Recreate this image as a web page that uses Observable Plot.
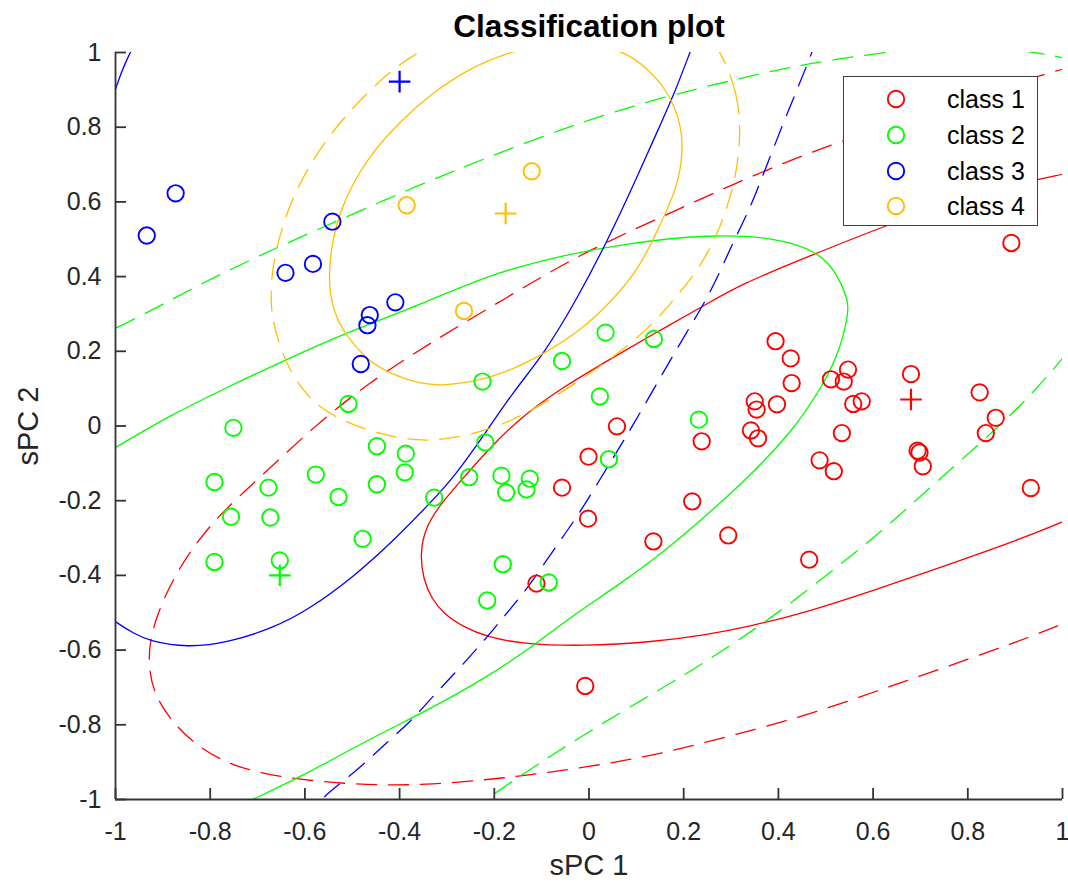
<!DOCTYPE html>
<html>
<head>
<meta charset="utf-8">
<script src="https://cdn.jsdelivr.net/npm/d3@7"></script>
<script src="https://cdn.jsdelivr.net/npm/@observablehq/plot@0.6"></script>
<style>
  html, body { margin: 0; padding: 0; background: #fff; }
  #wrap { position: relative; width: 1068px; height: 886px; font-family: "Liberation Sans", Arial, Helvetica, sans-serif; }
  #legend { position: absolute; left: 843px; top: 76px; width: 193px; height: 148px; border: 1.5px solid #404040; background: #fff; }
  .entry { position: absolute; left: 0; height: 30px; width: 190px; }
  .entry svg { position: absolute; left: 42px; top: 5px; }
  .entry span { position: absolute; left: 103px; top: 0; font-size: 25px; line-height: 30px; color: #000; }
</style>
</head>
<body>
<div id="wrap"><div id="chart"></div><div id="legend"></div></div>
<script>
// ---- axes ----
const xTicks = [-1, -0.8, -0.6, -0.4, -0.2, 0, 0.2, 0.4, 0.6, 0.8, 1];
const yTicks = [-1, -0.8, -0.6, -0.4, -0.2, 0, 0.2, 0.4, 0.6, 0.8, 1];
const xDomain = [-1, 1];
const yDomain = [-1, 1];

// ---- classes ----
const classNames = ["class 1", "class 2", "class 3", "class 4"];
const classColors = ["#FF0000", "#00FF00", "#0000FF", "#FFBF00"];

// class 1 (red) samples
const class1X = [0.394, 0.426, 0.428, 0.350, 0.354, 0.397, 0.342, 0.357, 0.511, 0.547, 0.538, 0.558, 0.576, 0.534, 0.487, 0.517, 0.680, 0.825, 0.859, 0.838, 0.694, 0.698, 0.705, 0.933, 0.059, -0.001, 0.238, -0.057, 0.218, -0.002, 0.136, 0.294, -0.111, -0.008, 0.465, 0.892];
const class1Y = [0.227, 0.181, 0.115, 0.066, 0.044, 0.058, -0.012, -0.033, 0.125, 0.151, 0.119, 0.059, 0.066, -0.019, -0.092, -0.121, 0.139, 0.090, 0.022, -0.019, -0.066, -0.071, -0.108, -0.166, -0.001, -0.082, -0.041, -0.165, -0.202, -0.248, -0.309, -0.293, -0.422, -0.696, -0.358, 0.490];

// class 2 (green) samples
const class2X = [-0.508, -0.751, -0.448, -0.387, -0.389, -0.577, -0.448, -0.791, -0.677, -0.529, -0.756, -0.673, -0.478, -0.327, -0.791, -0.653, 0.035, 0.137, -0.057, -0.225, 0.023, 0.232, -0.219, 0.042, -0.253, -0.185, -0.125, -0.132, -0.175, -0.182, -0.215, -0.085];
const class2Y = [0.059, -0.005, -0.054, -0.074, -0.124, -0.130, -0.156, -0.150, -0.165, -0.190, -0.243, -0.245, -0.302, -0.192, -0.364, -0.360, 0.250, 0.233, 0.174, 0.119, 0.079, 0.017, -0.044, -0.089, -0.137, -0.133, -0.141, -0.170, -0.178, -0.370, -0.467, -0.419];

// class 3 (blue) samples
const class3X = [-0.873, -0.934, -0.542, -0.583, -0.641, -0.409, -0.463, -0.468, -0.482];
const class3Y = [0.623, 0.510, 0.547, 0.434, 0.410, 0.331, 0.297, 0.270, 0.166];

// class 4 (orange) samples
const class4X = [-0.385, -0.121, -0.264];
const class4Y = [0.591, 0.682, 0.308];

// class centres (+)
const centreX = [0.680, -0.653, -0.400, -0.176];
const centreY = [0.071, -0.400, 0.922, 0.569];

// ---- class boundaries ----
const red1X = [1.223, 1.117, 0.997, 0.813, 0.616, 0.468, 0.321, 0.243, 0.137, 0.039, -0.060, -0.144, -0.215, -0.264, -0.313, -0.345, -0.357, -0.350, -0.333, -0.305, -0.265, -0.215, -0.144, -0.011, 0.137, 0.243, 0.342, 0.461, 0.602, 0.743, 0.905, 1.039, 1.117];
const red1Y = [0.720, 0.702, 0.675, 0.621, 0.532, 0.456, 0.380, 0.322, 0.247, 0.175, 0.100, 0.024, -0.066, -0.137, -0.208, -0.270, -0.340, -0.410, -0.462, -0.505, -0.538, -0.565, -0.583, -0.590, -0.578, -0.560, -0.536, -0.498, -0.440, -0.378, -0.306, -0.238, -0.180];

const red2X = [1.223, 1.082, 0.976, 0.758, 0.539, 0.342, 0.137, -0.018, -0.172, -0.334, -0.468, -0.574, -0.679, -0.764, -0.827, -0.877, -0.909, -0.928, -0.930, -0.919, -0.884, -0.827, -0.750, -0.651, -0.539, -0.433, -0.334, -0.215, -0.130, -0.003, 0.137, 0.278, 0.461, 0.602, 0.743, 0.884, 1.000, 1.223];
const red2Y = [1.024, 0.979, 0.951, 0.854, 0.768, 0.670, 0.550, 0.461, 0.345, 0.224, 0.113, 0.006, -0.119, -0.217, -0.306, -0.405, -0.494, -0.574, -0.645, -0.716, -0.788, -0.859, -0.913, -0.940, -0.956, -0.962, -0.960, -0.947, -0.935, -0.913, -0.882, -0.837, -0.775, -0.712, -0.650, -0.587, -0.532, -0.408];

const green1X = [-1.193, -1.091, -1.000, -0.891, -0.764, -0.644, -0.518, -0.334, -0.215, -0.074, 0.067, 0.257, 0.391, 0.483, 0.525, 0.546, 0.549, 0.532, 0.497, 0.426, 0.330, 0.250, 0.166, 0.067, -0.039, -0.113, -0.215, -0.334, -0.468, -0.609, -0.711, -0.788, -0.972];
const green1Y = [-0.215, -0.128, -0.057, 0.024, 0.104, 0.175, 0.247, 0.336, 0.403, 0.452, 0.487, 0.514, 0.505, 0.469, 0.407, 0.340, 0.309, 0.211, 0.113, -0.021, -0.145, -0.237, -0.329, -0.422, -0.511, -0.585, -0.672, -0.757, -0.841, -0.940, -1.000, -1.047, -1.136];

const green2X = [-1.060, -1.000, -0.926, -0.870, -0.799, -0.666, -0.539, -0.363, -0.215, -0.039, 0.137, 0.342, 0.461, 0.623, 0.720, 0.820, 0.947, 0.993, 1.060, 1.150, 1.220, 1.200, 1.120, 1.050, 1.000, 0.954, 0.898, 0.813, 0.729, 0.659, 0.595, 0.532, 0.461, 0.391, 0.321, 0.208, 0.067, -0.074, -0.201, -0.260];
const green2Y = [0.230, 0.260, 0.309, 0.346, 0.394, 0.474, 0.545, 0.643, 0.719, 0.804, 0.875, 0.938, 0.971, 1.000, 1.015, 1.020, 1.000, 0.988, 0.970, 0.920, 0.780, 0.550, 0.380, 0.260, 0.180, 0.113, 0.037, -0.061, -0.155, -0.235, -0.306, -0.369, -0.440, -0.507, -0.569, -0.663, -0.766, -0.877, -0.984, -1.040];

const blue1X = [-0.895, -0.951, -0.972, -1.000, -1.013, -1.030, -1.070, -1.120, -1.150, -1.140, -1.100, -1.060, -1.000, -0.961, -0.926, -0.849, -0.764, -0.666, -0.595, -0.497, -0.412, -0.334, -0.285, -0.215, -0.158, -0.095, -0.025, 0.039, 0.095, 0.151, 0.180, 0.213, 0.250];
const blue1Y = [1.196, 1.036, 0.997, 0.906, 0.844, 0.760, 0.600, 0.400, 0.100, -0.200, -0.400, -0.470, -0.525, -0.556, -0.577, -0.593, -0.581, -0.540, -0.494, -0.404, -0.306, -0.204, -0.137, -0.012, 0.095, 0.193, 0.341, 0.496, 0.648, 0.808, 0.889, 1.000, 1.120];

const blue2X = [-0.600, -0.567, -0.539, -0.482, -0.426, -0.377, -0.324, -0.271, -0.215, -0.172, -0.130, -0.070, -0.025, 0.039, 0.095, 0.151, 0.208, 0.257, 0.299, 0.338, 0.363, 0.412, 0.447, 0.471, 0.490];
const blue2Y = [-1.060, -1.000, -0.971, -0.913, -0.846, -0.792, -0.716, -0.645, -0.565, -0.498, -0.436, -0.322, -0.244, -0.110, 0.006, 0.131, 0.255, 0.357, 0.478, 0.577, 0.657, 0.817, 0.924, 1.000, 1.070];

const orange1X = [0.081, 0.137, 0.173, 0.194, 0.199, 0.187, 0.151, 0.110, 0.053, -0.018, -0.095, -0.180, -0.250, -0.313, -0.356, -0.412, -0.468, -0.510, -0.535, -0.549, -0.548, -0.539, -0.518, -0.468, -0.398, -0.334, -0.250, -0.169, -0.102, -0.039, 0.020];
const orange1Y = [1.000, 0.942, 0.880, 0.808, 0.737, 0.639, 0.541, 0.430, 0.340, 0.255, 0.193, 0.140, 0.117, 0.108, 0.113, 0.135, 0.175, 0.238, 0.291, 0.362, 0.440, 0.514, 0.603, 0.719, 0.817, 0.889, 0.960, 1.000, 1.021, 1.030, 1.020];

const orange2X = [0.282, 0.314, 0.321, 0.310, 0.278, 0.236, 0.180, 0.145, 0.088, 0.011, -0.074, -0.158, -0.250, -0.334, -0.398, -0.468, -0.539, -0.595, -0.637, -0.666, -0.673, -0.669, -0.651, -0.623, -0.581, -0.525, -0.447, -0.387, -0.278, -0.194, -0.102, -0.018, 0.116, 0.187, 0.243];
const orange2Y = [0.996, 0.889, 0.782, 0.657, 0.532, 0.425, 0.340, 0.287, 0.220, 0.148, 0.077, 0.015, -0.025, -0.041, -0.034, -0.012, 0.024, 0.077, 0.157, 0.264, 0.336, 0.425, 0.523, 0.621, 0.719, 0.817, 0.920, 0.982, 1.061, 1.123, 1.163, 1.179, 1.150, 1.114, 1.061];

// ---- build tables ----
const zip = (xs, ys, extra) => xs.map((x, i) => ({x, y: ys[i], ...extra}));
const samples = [
  ...zip(class1X, class1Y, {c: 0}),
  ...zip(class2X, class2Y, {c: 1}),
  ...zip(class3X, class3Y, {c: 2}),
  ...zip(class4X, class4Y, {c: 3})
];
const centres = zip(centreX, centreY, {}).map((d, i) => ({...d, c: i}));

const curves = [
  {xs: red1X, ys: red1Y, c: 0, dashed: false, closed: false},
  {xs: red2X, ys: red2Y, c: 0, dashed: true, closed: false},
  {xs: green1X, ys: green1Y, c: 1, dashed: false, closed: false},
  {xs: green2X, ys: green2Y, c: 1, dashed: true, closed: false},
  {xs: blue1X, ys: blue1Y, c: 2, dashed: false, closed: false},
  {xs: blue2X, ys: blue2Y, c: 2, dashed: true, closed: false},
  {xs: orange1X, ys: orange1Y, c: 3, dashed: false, closed: true},
  {xs: orange2X, ys: orange2Y, c: 3, dashed: true, closed: true}
];

const W = 1068, H = 886;
const mL = 115, mR = 6, mT = 52, mB = 87;
const plotW = W - mL - mR, plotH = H - mT - mB;
const axisColor = "#333333";
const font = "'Liberation Sans', Arial, Helvetica, sans-serif";

const curveMarks = curves.map(cv => Plot.line(zip(cv.xs, cv.ys, {}), {
  x: "x", y: "y",
  stroke: classColors[cv.c],
  strokeWidth: 1.3,
  strokeDasharray: cv.dashed ? "20,12" : null,
  curve: cv.closed ? "basis-closed" : "basis",
  clip: true
}));

const chart = Plot.plot({
  width: W, height: H,
  marginLeft: mL, marginRight: mR, marginTop: mT, marginBottom: mB,
  x: {domain: xDomain},
  y: {domain: yDomain},
  style: {fontFamily: font, background: "#fff", overflow: "visible"},
  marks: [
    ...curveMarks,
    Plot.dot(samples, {x: "x", y: "y", r: 8.2, stroke: d => classColors[d.c], strokeWidth: 1.9, fill: "none"}),
    Plot.dot(centres, {x: "x", y: "y", symbol: "plus", r: 7, stroke: d => classColors[d.c], strokeWidth: 2.2}),
    // axis lines (left and bottom only)
    Plot.ruleX([xDomain[0]], {stroke: axisColor, strokeWidth: 1.8}),
    Plot.ruleY([yDomain[0]], {stroke: axisColor, strokeWidth: 1.8}),
    // inward ticks
    Plot.ruleX(xTicks, {x: d => d, insetTop: plotH - 11, stroke: axisColor, strokeWidth: 1.8}),
    Plot.ruleY(yTicks, {y: d => d, insetRight: plotW - 11, stroke: axisColor, strokeWidth: 1.8}),
    Plot.axisX(xTicks, {anchor: "bottom", tickSize: 0, tickPadding: 23, tickFormat: d => String(d), fontSize: 25, fill: "#262626", label: null}),
    Plot.axisY(yTicks, {anchor: "left", tickSize: 0, tickPadding: 14, tickFormat: d => String(d), fontSize: 25, fill: "#262626", label: null}),
    Plot.text(["sPC 1"], {frameAnchor: "bottom", dy: 66, lineAnchor: "middle", textAnchor: "middle", text: d => d, fontSize: 29, fill: "#262626"}),
    Plot.text(["sPC 2"], {frameAnchor: "left", dx: -87, rotate: -90, lineAnchor: "middle", textAnchor: "middle", text: d => d, fontSize: 29, fill: "#262626"}),
    Plot.text(["Classification plot"], {frameAnchor: "top", dy: -26, lineAnchor: "middle", textAnchor: "middle", text: d => d, fontSize: 31.5, fontWeight: "bold", fill: "#000"})
  ]
});
document.getElementById("chart").appendChild(chart);

// legend
const legend = document.getElementById("legend");
const rowTops = [7, 43, 78.5, 114];
classNames.forEach((name, i) => {
  const e = document.createElement("div");
  e.className = "entry";
  e.style.top = rowTops[i] + "px";
  e.innerHTML = `<svg width="20" height="20"><circle cx="10" cy="10" r="8.2" fill="none" stroke="${classColors[i]}" stroke-width="1.9"/></svg><span>${name}</span>`;
  legend.appendChild(e);
});
</script>
</body>
</html>
